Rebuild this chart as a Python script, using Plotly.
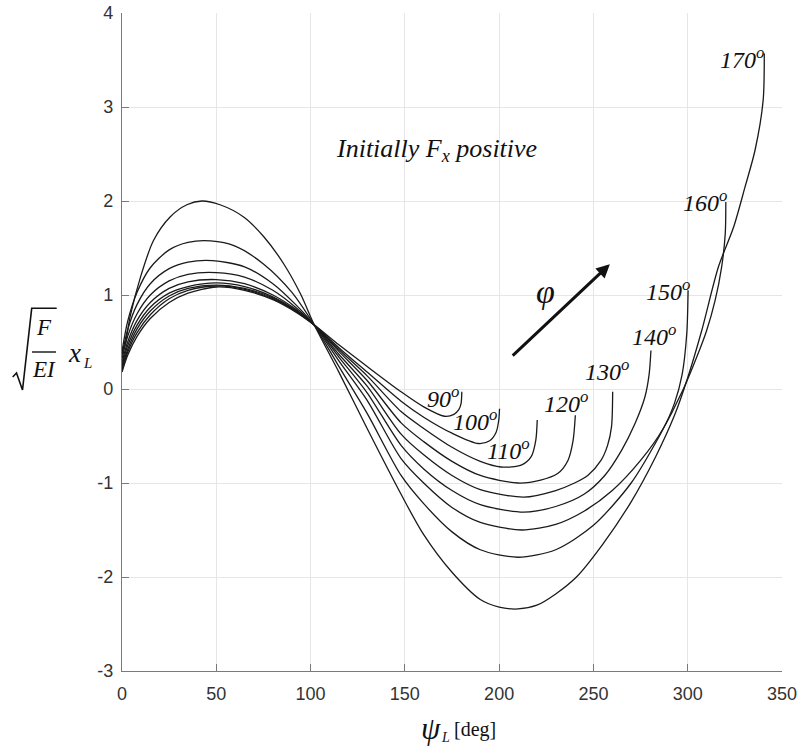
import plotly.graph_objects as go

# ---------------- data ----------------
PHI_LABELS = ["90", "100", "110", "120", "130", "140", "150", "160", "170"]

PSI_090 = [0, 3, 8, 15, 25, 35, 50, 65, 80, 92, 102, 115, 130, 148, 160, 171, 176, 178.6, 179.8, 180.2]
XL_090 = [0.18, 0.36, 0.56, 0.75, 0.92, 1.02, 1.085, 1.05, 0.95, 0.82, 0.68, 0.47, 0.24, -0.03, -0.19, -0.29, -0.27, -0.22, -0.155, -0.03]

PSI_100 = [0, 3, 8, 15, 25, 35, 50, 65, 80, 92, 102, 115, 130, 148, 160, 175, 189, 195, 198.4, 199.8, 200.2]
XL_100 = [0.20, 0.39, 0.60, 0.79, 0.96, 1.05, 1.096, 1.06, 0.96, 0.83, 0.68, 0.44, 0.18, -0.13, -0.30, -0.47, -0.58, -0.55, -0.46, -0.33, -0.21]

PSI_110 = [0, 3, 8, 15, 25, 35, 50, 65, 80, 92, 102, 115, 130, 148, 160, 175, 190, 201, 211.7, 217, 219.4, 220.2]
XL_110 = [0.22, 0.42, 0.64, 0.83, 0.99, 1.07, 1.106, 1.07, 0.97, 0.83, 0.68, 0.42, 0.14, -0.24, -0.42, -0.62, -0.77, -0.83, -0.81, -0.72, -0.55, -0.33]

PSI_120 = [0, 3, 8, 15, 25, 35, 50, 65, 80, 92, 102, 115, 130, 148, 160, 175, 190, 210, 222, 231, 236.5, 239.2, 240.4]
XL_120 = [0.25, 0.46, 0.68, 0.87, 1.02, 1.09, 1.128, 1.09, 0.98, 0.84, 0.68, 0.40, 0.09, -0.36, -0.56, -0.77, -0.92, -1.00, -0.97, -0.90, -0.76, -0.55, -0.28]

PSI_130 = [0, 3, 8, 15, 25, 35, 50, 65, 80, 92, 102, 115, 130, 148, 160, 175, 190, 213, 230, 240, 247, 254, 257.5, 259.6, 260.2]
XL_130 = [0.28, 0.50, 0.73, 0.92, 1.07, 1.14, 1.164, 1.12, 1.00, 0.85, 0.68, 0.37, 0.03, -0.48, -0.70, -0.92, -1.07, -1.15, -1.08, -1.00, -0.92, -0.76, -0.60, -0.40, -0.03]

PSI_140 = [0, 3, 8, 15, 25, 35, 50, 65, 80, 92, 102, 115, 130, 148, 160, 175, 190, 213, 230, 245, 256, 265, 272, 277.3, 279.5, 280.5]
XL_140 = [0.32, 0.56, 0.80, 1.00, 1.15, 1.22, 1.238, 1.19, 1.05, 0.87, 0.68, 0.34, -0.04, -0.60, -0.85, -1.08, -1.23, -1.31, -1.25, -1.12, -0.92, -0.65, -0.37, -0.085, 0.15, 0.41]

PSI_150 = [0, 3, 8, 15, 25, 35, 48, 65, 80, 92, 102, 115, 130, 148, 160, 175, 190, 212, 230, 245, 260, 275, 287, 293, 297, 299.5, 300.2]
XL_150 = [0.36, 0.63, 0.90, 1.12, 1.28, 1.35, 1.366, 1.30, 1.12, 0.90, 0.68, 0.30, -0.12, -0.74, -1.00, -1.26, -1.42, -1.50, -1.44, -1.30, -1.08, -0.76, -0.42, -0.15, 0.15, 0.59, 1.05]

PSI_160 = [0, 3, 8, 15, 25, 35, 47, 60, 75, 90, 102, 115, 130, 148, 160, 175, 190, 210, 230, 250, 270, 285, 297.7, 305, 310, 314.5, 318, 319.9, 320.2]
XL_160 = [0.40, 0.72, 1.03, 1.29, 1.48, 1.56, 1.575, 1.52, 1.33, 1.03, 0.68, 0.24, -0.26, -0.92, -1.22, -1.52, -1.71, -1.79, -1.71, -1.45, -1.00, -0.50, 0.00, 0.35, 0.62, 0.94, 1.30, 1.65, 1.99]

PSI_170 = [0, 1.6, 4.3, 9.8, 16.7, 25.5, 34.4, 42.4, 52, 64.5, 75.2, 85.8, 94.7, 102, 115, 130, 148, 160, 175, 190, 200, 210, 220, 230, 241, 255, 270, 283, 293, 300, 307.4, 316.3, 324.3, 330.4, 335.7, 340, 340.6]
XL_170 = [0.40, 0.47, 0.77, 1.19, 1.58, 1.83, 1.96, 2.00, 1.96, 1.83, 1.62, 1.33, 1.01, 0.68, 0.18, -0.42, -1.12, -1.55, -1.95, -2.24, -2.32, -2.34, -2.30, -2.18, -2.00, -1.65, -1.20, -0.72, -0.28, 0.12, 0.62, 1.30, 1.72, 2.15, 2.54, 3.07, 3.57]

CURVES = [(PSI_090, XL_090), (PSI_100, XL_100), (PSI_110, XL_110), (PSI_120, XL_120),
          (PSI_130, XL_130), (PSI_140, XL_140), (PSI_150, XL_150), (PSI_160, XL_160),
          (PSI_170, XL_170)]

# label anchor positions (data coords) for the phi labels
LABEL_PSI = [170.2, 187.2, 204.8, 235.6, 257.4, 281.9, 289.4, 309.0, 328.7]
LABEL_Y = [-0.08, -0.33, -0.64, -0.14, 0.20, 0.57, 1.05, 2.00, 3.52]

X_TICKS = [0, 50, 100, 150, 200, 250, 300, 350]
Y_TICKS = [-3, -2, -1, 0, 1, 2, 3, 4]

# ---------------- figure ----------------
W, H = 800, 755
ML, MR, MT, MB = 122, 18, 13, 84
PW, PH = W - ML - MR, H - MT - MB


def px(xp):
    return (xp - ML) / PW


def py(yp):
    return (H - MB - yp) / PH


SERIF = "Liberation Serif"
SANS = "Liberation Sans"

fig = go.Figure()
for psi, xl in CURVES:
    fig.add_trace(go.Scatter(x=psi, y=xl, mode="lines",
                             line=dict(color="#1a1a1a", width=1.3, shape="spline", smoothing=0.8),
                             hoverinfo="skip", showlegend=False))

ann = []
for lab, lx, ly in zip(PHI_LABELS, LABEL_PSI, LABEL_Y):
    ann.append(dict(x=lx, y=ly, xref="x", yref="y", text=f"<i>{lab}<sup>o</sup></i>",
                    showarrow=False, font=dict(family=SERIF, size=24, color="#111"),
                    xanchor="center", yanchor="middle"))

ann.append(dict(x=167, y=2.54, xref="x", yref="y", text="<i>Initially F<sub>x</sub> positive</i>",
                showarrow=False, font=dict(family=SERIF, size=26, color="#111"),
                xanchor="center", yanchor="middle"))
ann.append(dict(x=224.5, y=1.04, xref="x", yref="y", text="<i>φ</i>",
                showarrow=False, font=dict(family=SERIF, size=34, color="#111"),
                xanchor="center", yanchor="middle"))
ann.append(dict(x=258.7, y=1.327, ax=206.4, ay=0.34, xref="x", yref="y", axref="x", ayref="y",
                text="", showarrow=True, arrowhead=2, arrowsize=0.9, arrowwidth=3, arrowcolor="#111"))

# y-axis label: sqrt(F/EI) x_L
ann.append(dict(x=px(44), y=py(327), xref="paper", yref="paper", text="<i>F</i>", showarrow=False,
                font=dict(family=SERIF, size=23, color="#111"), xanchor="center", yanchor="middle"))
ann.append(dict(x=px(44), y=py(369), xref="paper", yref="paper", text="<i>EI</i>", showarrow=False,
                font=dict(family=SERIF, size=23, color="#111"), xanchor="center", yanchor="middle"))
ann.append(dict(x=px(74), y=py(353), xref="paper", yref="paper", text="<i>x</i>", showarrow=False,
                font=dict(family=SERIF, size=27, color="#111"), xanchor="center", yanchor="middle"))
ann.append(dict(x=px(87), y=py(363), xref="paper", yref="paper", text="<i>L</i>", showarrow=False,
                font=dict(family=SERIF, size=15, color="#111"), xanchor="center", yanchor="middle"))

# x-axis label: psi_L [deg]
ann.append(dict(x=px(431), y=py(728), xref="paper", yref="paper", text="<i>ψ</i>", showarrow=False,
                font=dict(family=SERIF, size=31, color="#111"), xanchor="center", yanchor="middle"))
ann.append(dict(x=px(445), y=py(737), xref="paper", yref="paper", text="<i>L</i>", showarrow=False,
                font=dict(family=SERIF, size=14, color="#111"), xanchor="center", yanchor="middle"))
ann.append(dict(x=px(475), y=py(729), xref="paper", yref="paper", text="[deg]", showarrow=False,
                font=dict(family=SERIF, size=20, color="#111"), xanchor="center", yanchor="middle"))

shapes = [
    dict(type="path", xref="paper", yref="paper",
         path=f"M {px(12.7)} {py(377)} L {px(16.5)} {py(373)} L {px(22.5)} {py(390)} "
              f"L {px(31.7)} {py(308.3)} L {px(56.7)} {py(308.3)}",
         line=dict(color="#111", width=1.6)),
    dict(type="line", xref="paper", yref="paper", x0=px(32), x1=px(56), y0=py(352), y1=py(352),
         line=dict(color="#111", width=1.4)),
]

axis_common = dict(showgrid=True, gridcolor="#e6e6e6", gridwidth=1, showline=True,
                   linecolor="#7a7a7a", linewidth=1.3, ticks="inside", ticklen=7,
                   tickcolor="#7a7a7a", tickwidth=1.2, zeroline=False, automargin=False,
                   tickfont=dict(family=SANS, size=18, color="#333"))

fig.update_layout(
    width=W, height=H, margin=dict(l=ML, r=MR, t=MT, b=MB, pad=0, autoexpand=False),
    paper_bgcolor="white", plot_bgcolor="white",
    xaxis=dict(range=[0, 350], tickvals=X_TICKS, ticktext=[str(v) for v in X_TICKS],
               ticklabelstandoff=6, **axis_common),
    yaxis=dict(range=[-3, 4], tickvals=Y_TICKS, ticktext=[str(v) for v in Y_TICKS],
               ticklabelstandoff=4, **axis_common),
    annotations=ann, shapes=shapes, showlegend=False,
)

fig.write_html("out.html")
